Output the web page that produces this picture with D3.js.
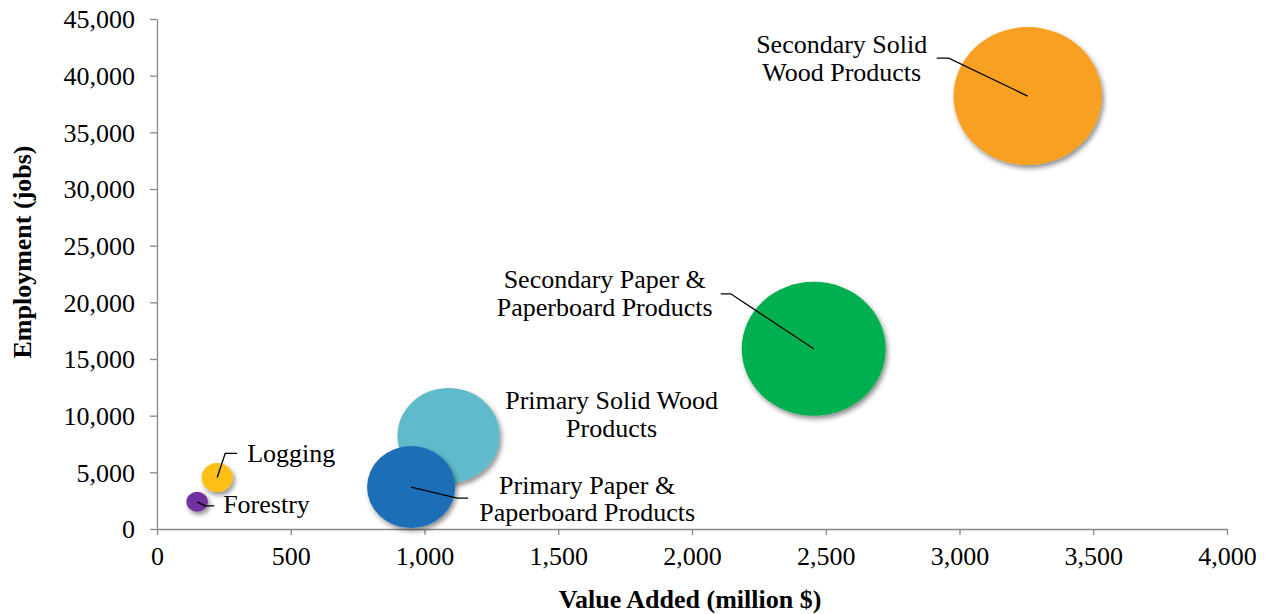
<!DOCTYPE html>
<html>
<head>
<meta charset="utf-8">
<script src="https://cdn.jsdelivr.net/npm/d3@7"></script>
<style>
  body { margin: 0; background: #fff; }
  svg text { font-family: "Liberation Serif", "Times New Roman", serif; fill: #000; }
</style>
</head>
<body>
<div id="chart"></div>
<script>
/*
  bubble chart: value added vs employment by forest sector
  requires: d3 v7
*/

var sectors = ["Forestry", "Logging", "Primary Paper & Paperboard Products",
  "Primary Solid Wood Products", "Secondary Paper & Paperboard Products",
  "Secondary Solid Wood Products"];
var valueAdded = [150, 225, 950, 1090, 2455, 3255];        // million $
var employment = [2400, 4550, 3700, 8250, 15900, 38200];   // jobs
var bubbleSize = [210, 442, 3530, 4740, 9430, 10000];      // relative bubble size
var colors = ["#7131A0", "#FDBF13", "#1C6EB6", "#5EBBCC", "#00AF50", "#F8A021"];
var xTicks = [0, 500, 1000, 1500, 2000, 2500, 3000, 3500, 4000];
var yTicks = [0, 5000, 10000, 15000, 20000, 25000, 30000, 35000, 40000, 45000];

// label layout, offsets in px from bubble centre
var labelLayout = [
  {lines: ["Forestry"], anchor: "start", dx: 26, dy: [11], leader: [[0,0],[8,4],[17,4]]},
  {lines: ["Logging"], anchor: "start", dx: 30, dy: [-15], leader: [[0,0],[8,-24],[20,-24]]},
  {lines: ["Primary Paper &", "Paperboard Products"], anchor: "middle", dx: 176, dy: [7, 34], leader: [[0,0],[46,11],[57,11]]},
  {lines: ["Primary Solid Wood", "Products"], anchor: "middle", dx: 163, dy: [-27, 1], leader: null},
  {lines: ["Secondary Paper &", "Paperboard Products"], anchor: "middle", dx: -209, dy: [-61, -33], leader: [[0,0],[-83,-55],[-93,-55]]},
  {lines: ["Secondary Solid", "Wood Products"], anchor: "middle", dx: -186, dy: [-43, -15], leader: [[0,0],[-79,-38],[-91,-38]]}
];

var W = 1266, H = 614;
var plot = {left: 157, right: 1227, top: 19, bottom: 529};
var stretch = 1.075;   // bubbles are a bit wider than tall in the original
var axisColor = "#898989";

var svg = d3.select("#chart").append("svg")
  .attr("width", W).attr("height", H);

var defs = svg.append("defs");
defs.append("filter").attr("id", "shadow")
  .attr("x", "-20%").attr("y", "-20%").attr("width", "150%").attr("height", "150%")
  .append("feDropShadow")
  .attr("dx", 2).attr("dy", 3).attr("stdDeviation", 2.5)
  .attr("flood-color", "#000").attr("flood-opacity", 0.45);

var x = d3.scaleLinear().domain([0, 4000]).range([plot.left, plot.right]);
var y = d3.scaleLinear().domain([0, 45000]).range([plot.bottom, plot.top]);
var r = d3.scaleSqrt().domain([0, 10000]).range([0, 69]);

var data = sectors.map(function(s, i) {
  return {name: s, va: valueAdded[i], emp: employment[i], size: bubbleSize[i],
          color: colors[i], lab: labelLayout[i]};
});

// axes
var xAxis = svg.append("g")
  .attr("transform", "translate(0," + plot.bottom + ")")
  .call(d3.axisBottom(x).tickValues(xTicks).tickSize(6).tickSizeOuter(0).tickPadding(12)
    .tickFormat(d3.format(",")));
var yAxis = svg.append("g")
  .attr("transform", "translate(" + plot.left + ",0)")
  .call(d3.axisLeft(y).tickValues(yTicks).tickSize(7).tickSizeOuter(0).tickPadding(15)
    .tickFormat(d3.format(",")));

[xAxis, yAxis].forEach(function(a) {
  a.select(".domain").attr("stroke", axisColor).attr("stroke-width", 1.3);
  a.selectAll(".tick line").attr("stroke", axisColor).attr("stroke-width", 1.3);
  a.selectAll(".tick text").attr("font-size", 26)
    .style("font-family", "'Liberation Serif', 'Times New Roman', serif").attr("fill", "#000");
});
xAxis.selectAll(".tick text").attr("dy", "0.71em");
yAxis.selectAll(".tick text").attr("dy", "0.34em");

// axis titles
svg.append("text")
  .attr("x", 690).attr("y", 608)
  .attr("text-anchor", "middle").attr("font-size", 26).attr("font-weight", "bold")
  .text("Value Added (million $)");
svg.append("text")
  .attr("transform", "translate(31,252) rotate(-90)")
  .attr("text-anchor", "middle").attr("font-size", 26).attr("font-weight", "bold")
  .text("Employment (jobs)");

// bubbles, biggest first so small ones sit on top
var sorted = data.slice().sort(function(a, b) { return b.size - a.size; });
svg.append("g").selectAll("ellipse")
  .data(sorted)
  .enter()
  .append("ellipse")
  .attr("cx", function(d) { return x(d.va); })
  .attr("cy", function(d) { return y(d.emp); })
  .attr("rx", function(d) { return r(d.size) * stretch; })
  .attr("ry", function(d) { return r(d.size); })
  .attr("fill", function(d) { return d.color; })
  .attr("filter", "url(#shadow)");

// leader lines
var line = d3.line();
svg.append("g").selectAll("path")
  .data(data.filter(function(d) { return d.lab.leader; }))
  .enter()
  .append("path")
  .attr("d", function(d) {
    var cx = x(d.va), cy = y(d.emp);
    return line(d.lab.leader.map(function(p) { return [cx + p[0], cy + p[1]]; }));
  })
  .attr("fill", "none").attr("stroke", "#000").attr("stroke-width", 1.3);

// labels
var labels = svg.append("g").selectAll("text")
  .data(data)
  .enter()
  .append("text")
  .attr("font-size", 26)
  .attr("text-anchor", function(d) { return d.lab.anchor; });

labels.selectAll("tspan")
  .data(function(d) {
    return d.lab.lines.map(function(t, k) {
      return {t: t, x: x(d.va) + d.lab.dx, y: y(d.emp) + d.lab.dy[k]};
    });
  })
  .enter()
  .append("tspan")
  .attr("x", function(d) { return d.x; })
  .attr("y", function(d) { return d.y; })
  .text(function(d) { return d.t; });
</script>
</body>
</html>
